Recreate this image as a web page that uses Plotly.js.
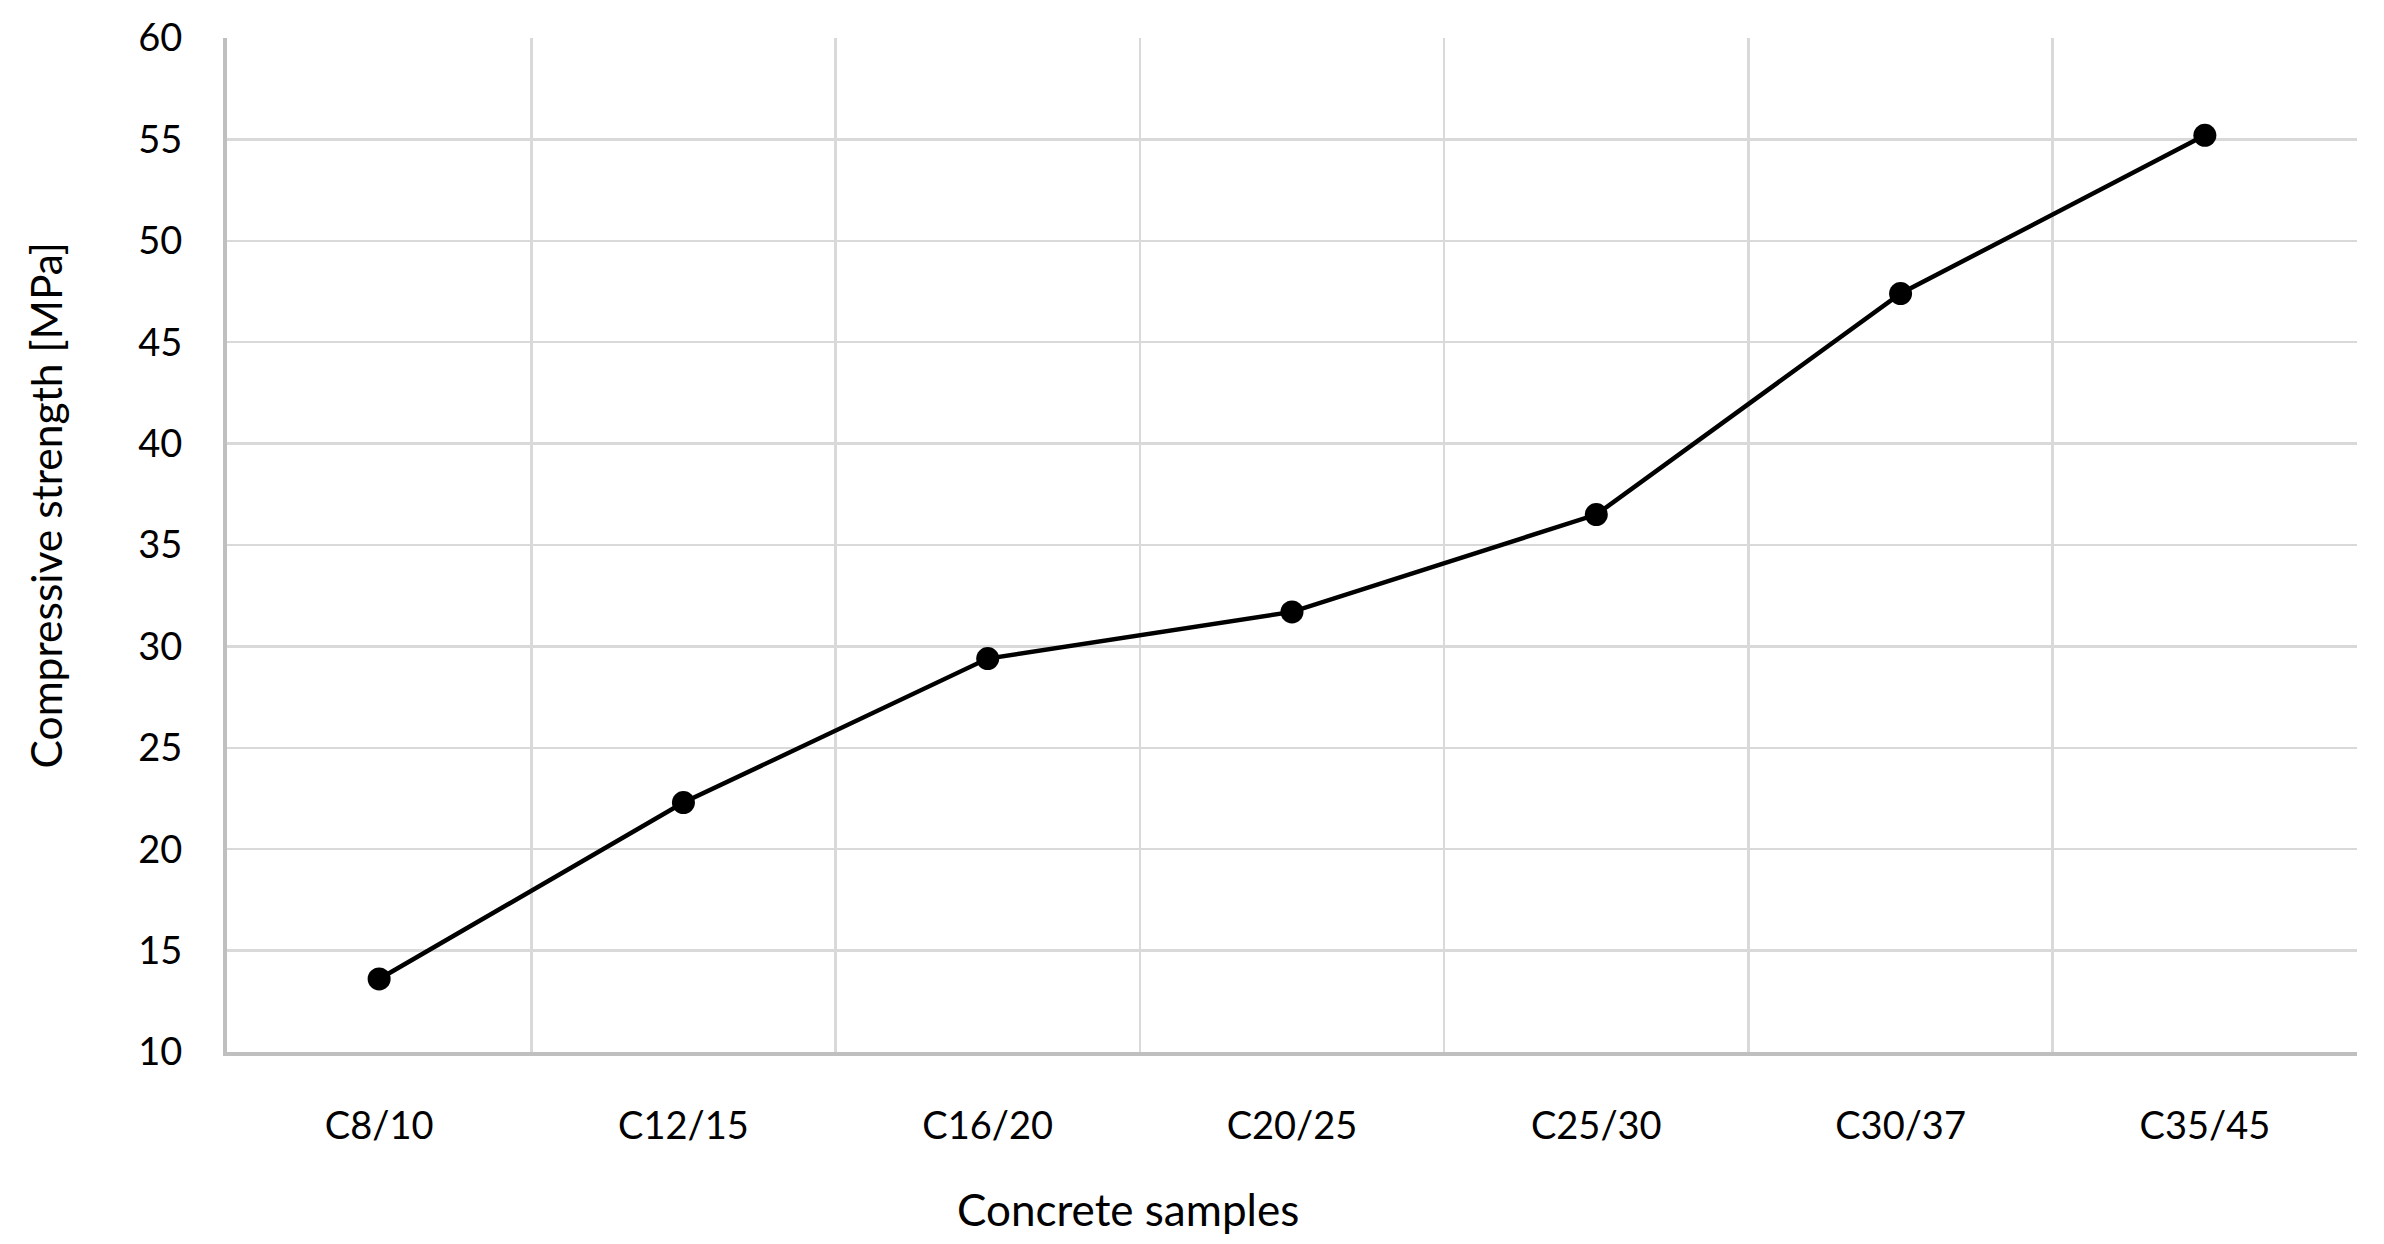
<!DOCTYPE html>
<html>
<head>
<meta charset="utf-8">
<script src="https://cdn.plot.ly/plotly-3.0.1.min.js"></script>
<style>
  html, body { margin: 0; padding: 0; background: #fff; }
  #myGraph { width: 2384px; height: 1244px; }
</style>
</head>
<body>
<div id="myGraph"></div>
<script>
let samples = ['C8/10', 'C12/15', 'C16/20', 'C20/25', 'C25/30', 'C30/37', 'C35/45'];
let strength = [13.6, 22.3, 29.4, 31.7, 36.5, 47.4, 55.2];

let font = 'Lato, Carlito, Liberation Sans, sans-serif';

// categories sit in the middle of each band, gridlines between bands (Excel style)
let xPos = samples.map((s, i) => i + 0.5);

let trace1 = {
  type: 'scatter',
  mode: 'lines+markers',
  x: xPos,
  y: strength,
  line: { color: '#000000', width: 4.5 },
  marker: { color: '#000000', size: 23 },
  showlegend: false,
  hoverinfo: 'y'
};

let layout = {
  width: 2384,
  height: 1244,
  paper_bgcolor: '#ffffff',
  plot_bgcolor: '#ffffff',
  margin: { l: 227, r: 27, t: 38, b: 192 },
  font: { family: font, size: 38, color: '#000000' },
  xaxis: {
    range: [0, 7],
    tickvals: xPos,
    ticktext: samples,
    showgrid: false,
    zeroline: false,
    ticks: '',
    ticklabelstandoff: 37,
    showline: true,
    linecolor: '#BFBFBF',
    linewidth: 4,
    minor: { tick0: 0, dtick: 1, showgrid: true, gridcolor: '#D9D9D9', gridwidth: 2.5, ticks: '' },
    fixedrange: true
  },
  yaxis: {
    range: [10, 60],
    dtick: 5,
    showgrid: true,
    gridcolor: '#D9D9D9',
    gridwidth: 2.5,
    zeroline: false,
    ticks: '',
    ticklabelstandoff: 33,
    showline: true,
    linecolor: '#BFBFBF',
    linewidth: 4,
    fixedrange: true
  },
  annotations: [
    {
      text: 'Concrete samples',
      xref: 'paper', yref: 'paper',
      x: 0.423, y: -0.155,
      xanchor: 'center', yanchor: 'middle',
      showarrow: false,
      font: { family: font, size: 44, color: '#000000' }
    },
    {
      text: 'Compressive strength [MPa]',
      xref: 'paper', yref: 'paper',
      x: -0.085, y: 0.539,
      xanchor: 'center', yanchor: 'middle',
      textangle: -90,
      showarrow: false,
      font: { family: font, size: 42.5, color: '#000000' }
    }
  ]
};

Plotly.newPlot('myGraph', [trace1], layout, { displayModeBar: false, staticPlot: true });
</script>
</body>
</html>
